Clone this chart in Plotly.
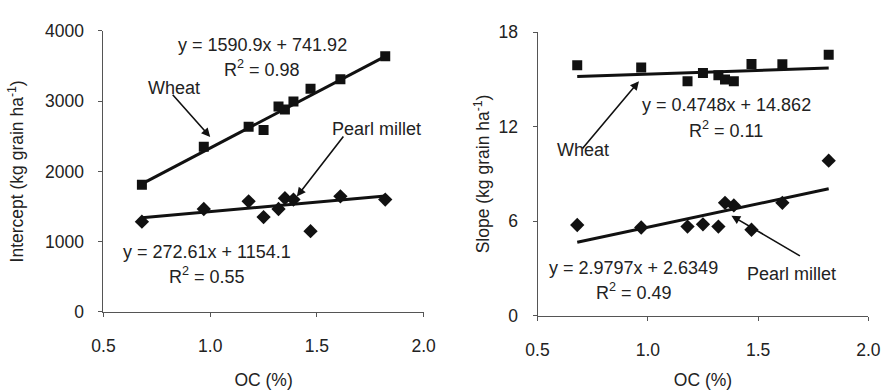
import plotly.graph_objects as go

# ---- data ----
oc = [0.68, 0.97, 1.18, 1.25, 1.32, 1.35, 1.39, 1.47, 1.61, 1.82]
wheat_intercept = [1810, 2350, 2635, 2590, 2925, 2880, 2995, 3175, 3310, 3640]
millet_intercept = [1285, 1465, 1575, 1350, 1465, 1620, 1600, 1150, 1645, 1600]
wheat_slope = [15.9, 15.76, 14.88, 15.4, 15.26, 15.0, 14.88, 15.98, 15.96, 16.57]
millet_slope = [5.76, 5.6, 5.66, 5.8, 5.66, 7.17, 7.0, 5.46, 7.17, 9.84]

# fitted trend coefficients (slope, intercept) as printed on the chart
fit_wheat_int = (1590.9, 741.92)
fit_millet_int = (272.61, 1154.1)
fit_wheat_slope = (0.4748, 14.862)
fit_millet_slope = (2.9797, 2.6349)

x_ticks = [0.5, 1.0, 1.5, 2.0]
x_tick_text = ["0.5", "1.0", "1.5", "2.0"]
y1_ticks = [0, 1000, 2000, 3000, 4000]
y2_ticks = [0, 6, 12, 18]

FONT = "Liberation Sans, Arial, sans-serif"
TXT = "#222222"
FS = 18
FT = 17.5

fig = go.Figure()

def trend(coef, xref, yref):
    xs = [min(oc), max(oc)]
    ys = [coef[0] * v + coef[1] for v in xs]
    fig.add_trace(go.Scatter(x=xs, y=ys, mode="lines", xaxis=xref, yaxis=yref,
                             line=dict(color="#111111", width=3), showlegend=False,
                             hoverinfo="skip"))

def pts(vals, symbol, size, xref, yref):
    fig.add_trace(go.Scatter(x=oc, y=vals, mode="markers", xaxis=xref, yaxis=yref,
                             marker=dict(symbol=symbol, size=size, color="#111111"),
                             showlegend=False))

trend(fit_wheat_int, "x", "y")
trend(fit_millet_int, "x", "y")
pts(wheat_intercept, "square", 10, "x", "y")
pts(millet_intercept, "diamond", 11, "x", "y")

trend(fit_wheat_slope, "x2", "y2")
trend(fit_millet_slope, "x2", "y2")
pts(wheat_slope, "square", 10, "x2", "y2")
pts(millet_slope, "diamond", 11, "x2", "y2")

axis_common = dict(showgrid=False, zeroline=False, showline=True, linecolor="#555555",
                   linewidth=1, ticks="outside", ticklen=4, tickcolor="#555555",
                   tickfont=dict(family=FONT, size=FT, color=TXT))

fig.update_layout(
    width=895, height=390, margin=dict(l=0, r=0, t=0, b=0),
    paper_bgcolor="white", plot_bgcolor="white",
    font=dict(family=FONT, size=FS, color=TXT),
    xaxis=dict(domain=[94/895, 423/895], range=[0.5, 2.0], tickvals=x_ticks,
               ticktext=x_tick_text, anchor="y", ticklabelstandoff=14,
               title=dict(text="OC (%)", font=dict(family=FONT, size=FT, color=TXT), standoff=18),
               **axis_common),
    yaxis=dict(domain=[(390-318.3)/390, (390-22)/390], range=[0, 4000], tickvals=y1_ticks,
               anchor="x", ticklabelstandoff=11,
               title=dict(text="Intercept (kg grain ha<sup>-1</sup>)",
                          font=dict(family=FONT, size=FT, color=TXT), standoff=16),
               **axis_common),
    xaxis2=dict(domain=[540/895, 880/895], range=[0.5, 2.0], tickvals=x_ticks,
                ticktext=x_tick_text, anchor="y2", ticklabelstandoff=14,
                title=dict(text="OC (%)", font=dict(family=FONT, size=FT, color=TXT), standoff=18),
                **axis_common),
    yaxis2=dict(domain=[(390-322.3)/390, (390-23.3)/390], range=[0, 18], tickvals=y2_ticks,
                anchor="x2", ticklabelstandoff=11,
                title=dict(text="Slope (kg grain ha<sup>-1</sup>)",
                           font=dict(family=FONT, size=FT, color=TXT), standoff=4),
                **axis_common),
)

def label(text, x, y, xr, yr):
    fig.add_annotation(text=text, x=x, y=y, xref=xr, yref=yr, showarrow=False,
                       font=dict(family=FONT, size=FS, color=TXT))

def arrow(x, y, ax, ay, xr, yr):
    fig.add_annotation(text=" ", x=x, y=y, xref=xr, yref=yr, ax=ax, ay=ay,
                       showarrow=True, arrowhead=2, arrowsize=1.1, arrowwidth=1.6,
                       arrowcolor="#111111", font=dict(size=1))

# left panel
label("y = 1590.9x + 741.92", 1.245, 3801, "x", "y")
label("R<sup>2</sup> = 0.98", 1.245, 3464, "x", "y")
label("Wheat", 0.832, 3193, "x", "y")
arrow(1.0, 2490, -39, -44, "x", "y")
label("Pearl millet", 1.777, 2599, "x", "y")
arrow(1.406, 1643, 48, -62, "x", "y")
label("y = 272.61x + 1154.1", 0.986, 855, "x", "y")
label("R<sup>2</sup> = 0.55", 0.986, 518, "x", "y")

# right panel
label("y = 0.4748x + 14.862", 1.356, 13.38, "x2", "y2")
label("R<sup>2</sup> = 0.11", 1.356, 11.82, "x2", "y2")
label("Wheat", 0.707, 10.49, "x2", "y2")
arrow(0.96, 14.88, -58, 69, "x2", "y2")
label("Pearl millet", 1.651, 2.65, "x2", "y2")
arrow(1.379, 6.35, 70, 41, "x2", "y2")
label("y = 2.9797x + 2.6349", 0.936, 3.04, "x2", "y2")
label("R<sup>2</sup> = 0.49", 0.936, 1.54, "x2", "y2")

fig.write_html("out.html")
